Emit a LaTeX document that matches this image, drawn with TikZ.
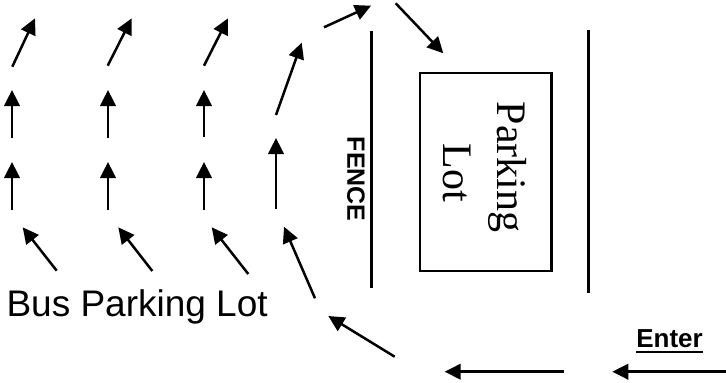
\documentclass[tikz,border=0pt]{standalone}
\usepackage{fontspec}
\setmainfont{Liberation Sans}
\newfontfamily\serifont{Liberation Serif}
\usetikzlibrary{arrows.meta}
\begin{document}
\begin{tikzpicture}[x=1pt,y=-1pt,
  arr/.style={line width=2.5pt,-{Triangle[length=16pt,width=15.5pt]}},
  wall/.style={line width=2.5pt},
  lbl/.style={inner sep=0pt,outer sep=0pt}]
\useasboundingbox (0,0) rectangle (726,383);
% arrows: start -> tip
\foreach \i/\sx/\sy/\tx/\ty in {
  1/12.3/66.7/35/18.3, 2/12/138/12/90, 3/12/210/12/162, 4/56.7/270.7/22.7/227.3,
  5/107.7/65.7/131.7/18.3, 6/108/138/108/90, 7/108/210/108/162, 8/152.3/271/118.3/227.3,
  9/204/65.7/228/18.3, 10/204/137/204/90, 11/204/210/204/162, 12/248.3/274/211.7/227.3,
  13/276/209/276/138, 14/276/115/301.7/42.7, 15/324/27.3/371/5.7, 16/395.7/3.3/443.3/53.3,
  17/315/298.3/284/226.7, 18/394.7/356.7/328.3/316, 19/564/371.7/444.7/371.7,
  20/730/371.7/612.3/371.7}
{
  \coordinate (s\i) at (\sx,\sy);
  \coordinate (t\i) at (\tx,\ty);
  \draw[arr] (s\i) -- (t\i);
}
% fences
\coordinate (fa) at (371.5,30.7);
\coordinate (fb) at (371.5,288.3);
\coordinate (ga) at (588.3,30);
\coordinate (gb) at (588.3,293.3);
\draw[wall] (fa) -- (fb);
\draw[wall] (ga) -- (gb);
% parking lot box
\node (lot) [draw, line width=2.5pt, minimum width=131.5pt, minimum height=198pt, inner sep=0pt] at (485.8,171.8) {};
\node (pk) [lbl, anchor=base, rotate=-90, font=\serifont\fontsize{42}{50}\selectfont] at (497,167.3) {Parking};
\node (lt) [lbl, anchor=base, rotate=-90, font=\serifont\fontsize{42}{50}\selectfont] at (443.5,172.5) {Lot};
% labels
\node (fence) [lbl, anchor=base, rotate=-90, font=\bfseries\fontsize{25}{30}\selectfont] at (347.3,179.2) {FENCE};
\node (bus) [lbl, anchor=base west, font=\fontsize{37}{44}\selectfont] at (6.5,316) {Bus Parking Lot};
\node (enter) [lbl, anchor=base west, font=\bfseries\fontsize{26}{30}\selectfont] at (636.3,347.7) {Enter};
\draw[line width=2.2pt] ([yshift=-4pt]enter.base west) -- ([yshift=-4pt]enter.base east);
\end{tikzpicture}
\end{document}
